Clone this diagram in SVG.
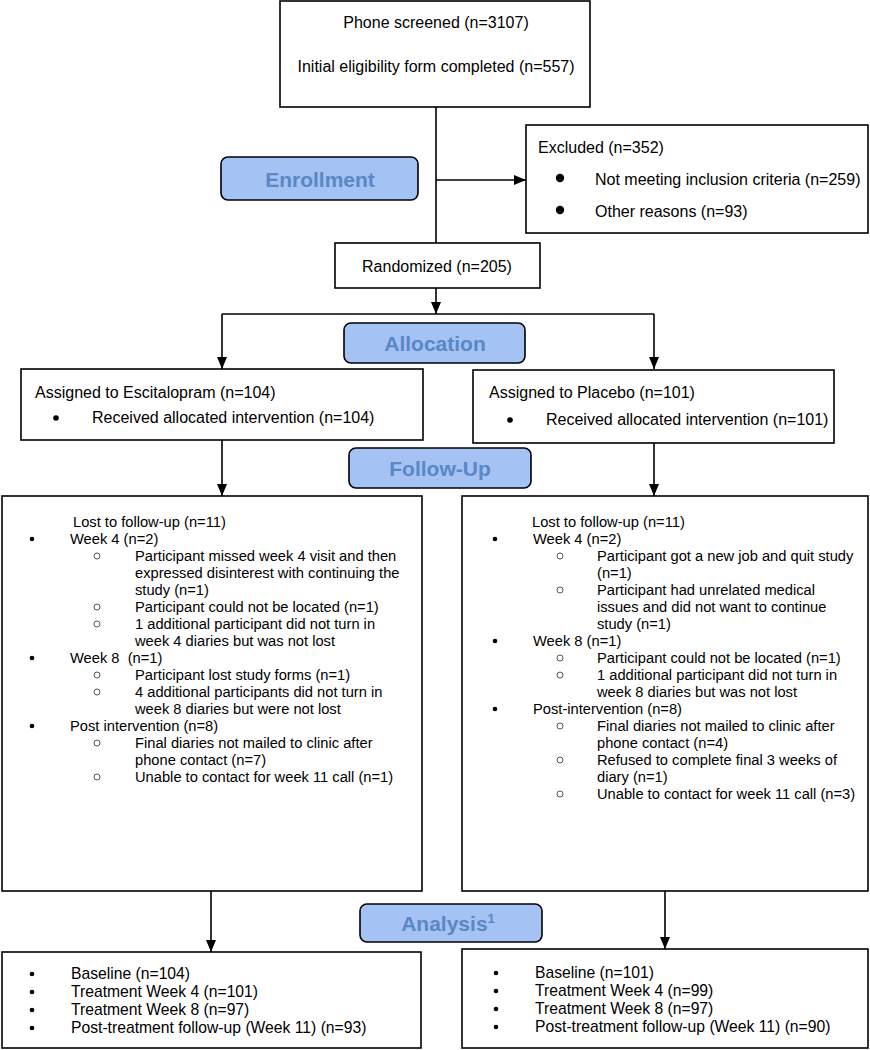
<svg xmlns="http://www.w3.org/2000/svg" width="870" height="1050" viewBox="0 0 870 1050">
<style>
text{font-family:"Liberation Sans",Arial,sans-serif;fill:#000}
.box{fill:#fff;stroke:#000;stroke-width:1.6}
.lab{fill:#a4c2f4;stroke:#000;stroke-width:1.6}
.lt{font-size:21px;font-weight:bold;fill:#5a87c5;text-anchor:middle}
.t16{font-size:16px}
.t15{font-size:14.7px}
.tb{font-size:15.7px}
.mid{text-anchor:middle}
.ln{stroke:#000;stroke-width:1.6;fill:none}
.hb{fill:none;stroke:#444;stroke-width:0.9}
</style>
<defs>
<marker id="arr" viewBox="0 0 12 10" refX="12" refY="5" markerWidth="12" markerHeight="10" orient="auto" markerUnits="userSpaceOnUse"><path d="M0,0 L12,5 L0,10 z" fill="#000"/></marker>
</defs>

<g id="connectors">
<line class="ln" x1="436" y1="107" x2="436" y2="243"/>
<line class="ln" x1="436" y1="180" x2="526" y2="180" marker-end="url(#arr)"/>
<line class="ln" x1="436" y1="288" x2="436" y2="314" marker-end="url(#arr)"/>
<line class="ln" x1="222" y1="314" x2="654" y2="314"/>
<line class="ln" x1="222" y1="314" x2="222" y2="369" marker-end="url(#arr)"/>
<line class="ln" x1="654" y1="314" x2="654" y2="369" marker-end="url(#arr)"/>
<line class="ln" x1="222" y1="440" x2="222" y2="496" marker-end="url(#arr)"/>
<line class="ln" x1="654" y1="443" x2="654" y2="496" marker-end="url(#arr)"/>
<line class="ln" x1="211" y1="891" x2="211" y2="952" marker-end="url(#arr)"/>
<line class="ln" x1="665" y1="891" x2="665" y2="949" marker-end="url(#arr)"/>
</g>

<g id="screened">
<rect class="box" x="280" y="1" width="310" height="106"/>
<text class="t16 mid" x="436" y="28">Phone screened (n=3107)</text>
<text class="t16 mid" x="436" y="72">Initial eligibility form completed (n=557)</text>
</g>

<g id="enrollment">
<rect class="lab" x="221" y="157" width="197" height="43" rx="7"/>
<text class="lt" x="320" y="187">Enrollment</text>
</g>

<g id="excluded">
<rect class="box" x="526" y="125" width="342" height="108"/>
<text class="t16" x="538" y="153">Excluded (n=352)</text>
<circle cx="560" cy="178" r="4.2"/>
<text class="t16" x="595" y="185">Not meeting inclusion criteria (n=259)</text>
<circle cx="560" cy="210" r="4.2"/>
<text class="t16" x="595" y="217">Other reasons (n=93)</text>
</g>

<g id="randomized">
<rect class="box" x="335" y="243" width="205" height="45"/>
<text class="t16 mid" x="437" y="272">Randomized (n=205)</text>
</g>

<g id="allocation">
<rect class="lab" x="344" y="323" width="181" height="40" rx="7"/>
<text class="lt" x="435" y="351">Allocation</text>
</g>

<g id="assigned-escitalopram">
<rect class="box" x="21" y="369" width="402" height="71"/>
<text class="t16" x="35" y="398">Assigned to Escitalopram (n=104)</text>
<circle cx="56" cy="418" r="2.8"/>
<text class="t16" x="92" y="423">Received allocated intervention (n=104)</text>
</g>

<g id="assigned-placebo">
<rect class="box" x="473" y="370" width="361" height="73"/>
<text class="t16" x="489" y="398">Assigned to Placebo (n=101)</text>
<circle cx="510" cy="420" r="2.8"/>
<text class="t16" x="546" y="425">Received allocated intervention (n=101)</text>
</g>

<g id="followup-label">
<rect class="lab" x="349" y="448" width="182" height="40" rx="7"/>
<text class="lt" x="440" y="476">Follow-Up</text>
</g>

<g id="followup-escitalopram">
<rect class="box" x="2" y="496" width="420" height="395"/>
<text class="t15" x="73" y="527">Lost to follow-up (n=11)</text>
<circle cx="32" cy="539" r="2.3"/>
<text class="t15" x="70" y="544">Week 4 (n=2)</text>
<circle class="hb" cx="97" cy="556" r="3"/>
<text class="t15" x="135" y="561">Participant missed week 4 visit and then</text>
<text class="t15" x="135" y="578">expressed disinterest with continuing the</text>
<text class="t15" x="135" y="595">study (n=1)</text>
<circle class="hb" cx="97" cy="607" r="3"/>
<text class="t15" x="135" y="612">Participant could not be located (n=1)</text>
<circle class="hb" cx="97" cy="624" r="3"/>
<text class="t15" x="135" y="629">1 additional participant did not turn in</text>
<text class="t15" x="135" y="646">week 4 diaries but was not lost</text>
<circle cx="32" cy="658" r="2.3"/>
<text class="t15" x="70" y="663" xml:space="preserve">Week 8  (n=1)</text>
<circle class="hb" cx="97" cy="675" r="3"/>
<text class="t15" x="135" y="680">Participant lost study forms (n=1)</text>
<circle class="hb" cx="97" cy="692" r="3"/>
<text class="t15" x="135" y="697">4 additional participants did not turn in</text>
<text class="t15" x="135" y="714">week 8 diaries but were not lost</text>
<circle cx="32" cy="726" r="2.3"/>
<text class="t15" x="70" y="731">Post intervention (n=8)</text>
<circle class="hb" cx="97" cy="743" r="3"/>
<text class="t15" x="135" y="748">Final diaries not mailed to clinic after</text>
<text class="t15" x="135" y="765">phone contact (n=7)</text>
<circle class="hb" cx="97" cy="777" r="3"/>
<text class="t15" x="135" y="782">Unable to contact for week 11 call (n=1)</text>
</g>

<g id="followup-placebo">
<rect class="box" x="462" y="496" width="406" height="395"/>
<text class="t15" x="532" y="527">Lost to follow-up (n=11)</text>
<circle cx="495" cy="539" r="2.3"/>
<text class="t15" x="533" y="544">Week 4 (n=2)</text>
<circle class="hb" cx="560" cy="556" r="3"/>
<text class="t15" x="597" y="561">Participant got a new job and quit study</text>
<text class="t15" x="597" y="578">(n=1)</text>
<circle class="hb" cx="560" cy="590" r="3"/>
<text class="t15" x="597" y="595">Participant had unrelated medical</text>
<text class="t15" x="597" y="612">issues and did not want to continue</text>
<text class="t15" x="597" y="629">study (n=1)</text>
<circle cx="495" cy="641" r="2.3"/>
<text class="t15" x="533" y="646">Week 8 (n=1)</text>
<circle class="hb" cx="560" cy="658" r="3"/>
<text class="t15" x="597" y="663">Participant could not be located (n=1)</text>
<circle class="hb" cx="560" cy="675" r="3"/>
<text class="t15" x="597" y="680">1 additional participant did not turn in</text>
<text class="t15" x="597" y="697">week 8 diaries but was not lost</text>
<circle cx="495" cy="709" r="2.3"/>
<text class="t15" x="533" y="714">Post-intervention (n=8)</text>
<circle class="hb" cx="560" cy="726" r="3"/>
<text class="t15" x="597" y="731">Final diaries not mailed to clinic after</text>
<text class="t15" x="597" y="748">phone contact (n=4)</text>
<circle class="hb" cx="560" cy="760" r="3"/>
<text class="t15" x="597" y="765">Refused to complete final 3 weeks of</text>
<text class="t15" x="597" y="782">diary (n=1)</text>
<circle class="hb" cx="560" cy="794" r="3"/>
<text class="t15" x="597" y="799">Unable to contact for week 11 call (n=3)</text>
</g>

<g id="analysis-label">
<rect class="lab" x="360" y="904" width="182" height="38" rx="7"/>
<text class="lt" x="448" y="931">Analysis<tspan font-size="13" dy="-8">1</tspan></text>
</g>

<g id="analysis-escitalopram">
<rect class="box" x="2" y="952" width="419" height="96"/>
<circle cx="32" cy="974" r="2.3"/>
<text class="tb" x="71" y="979">Baseline (n=104)</text>
<circle cx="32" cy="992" r="2.3"/>
<text class="tb" x="71" y="997">Treatment Week 4 (n=101)</text>
<circle cx="32" cy="1010" r="2.3"/>
<text class="tb" x="71" y="1015">Treatment Week 8 (n=97)</text>
<circle cx="32" cy="1028" r="2.3"/>
<text class="tb" x="71" y="1033">Post-treatment follow-up (Week 11) (n=93)</text>
</g>

<g id="analysis-placebo">
<rect class="box" x="462" y="949" width="406" height="99"/>
<circle cx="496" cy="973" r="2.3"/>
<text class="tb" x="535" y="978">Baseline (n=101)</text>
<circle cx="496" cy="991" r="2.3"/>
<text class="tb" x="535" y="996">Treatment Week 4 (n=99)</text>
<circle cx="496" cy="1009" r="2.3"/>
<text class="tb" x="535" y="1014">Treatment Week 8 (n=97)</text>
<circle cx="496" cy="1027" r="2.3"/>
<text class="tb" x="535" y="1032">Post-treatment follow-up (Week 11) (n=90)</text>
</g>
</svg>
